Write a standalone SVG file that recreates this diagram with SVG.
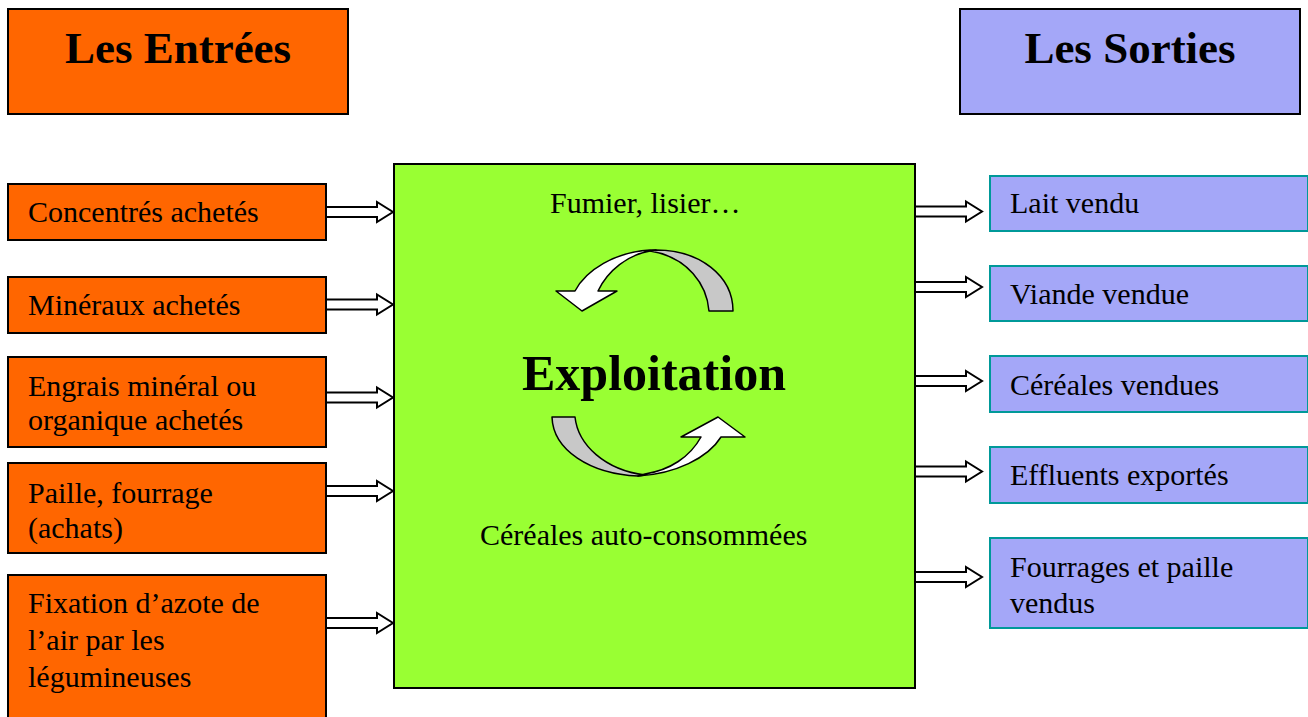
<svg xmlns="http://www.w3.org/2000/svg" xmlns:xlink="http://www.w3.org/1999/xlink" width="1308" height="717" viewBox="0 0 1308 717">
<style>
  .in { fill: #FF6600; stroke: #000; stroke-width: 2; }
  .out { fill: #A4A7F8; stroke: #009999; stroke-width: 2; }
  .outTitle { fill: #A4A7F8; stroke: #000; stroke-width: 2; }
  .main { fill: #99FF33; stroke: #000; stroke-width: 2; }
  .t { font-family: "Liberation Serif", "Times New Roman", serif; font-size: 30px; fill: #000; }
  .title { font-family: "Liberation Serif", "Times New Roman", serif; font-size: 45px; font-weight: bold; fill: #000; text-anchor: middle; }
  .big { font-family: "Liberation Serif", "Times New Roman", serif; font-size: 50px; font-weight: bold; fill: #000; text-anchor: middle; }
  .arr { fill: #fff; stroke: #000; stroke-width: 2; stroke-linejoin: miter; }
  .cw { fill: #fff; stroke: #000; stroke-width: 1.5; stroke-linejoin: round; }
  .cg { fill: #C8C8C8; stroke: #000; stroke-width: 1.5; stroke-linejoin: round; }
</style>
<defs>
  <path id="blk" d="M0,-5 L51,-5 L51,-10 L67,0 L51,10 L51,5 L0,5 Z"/>
</defs>
<rect width="1308" height="717" fill="#fff"/>

<g id="entrees-title">
  <rect class="in" x="8" y="9" width="340" height="105"/>
  <text class="title" x="178" y="63">Les Entrées</text>
</g>
<g id="sorties-title">
  <rect class="outTitle" x="960" y="9" width="340" height="105"/>
  <text class="title" x="1130" y="63">Les Sorties</text>
</g>

<g id="exploitation">
  <rect class="main" x="394" y="164" width="521" height="524"/>
  <text class="t" x="550" y="213">Fumier, lisier…</text>
  <text class="big" x="654" y="390">Exploitation</text>
  <text class="t" x="480" y="545">Céréales auto-consommées</text>
  <g id="cycle-top">
    <path class="cg" d="M650,251 C688,257 707,285 709,311 L733,311 C733,276 700,250 656,250 Z"/>
    <path class="cw" d="M656,250 L650,250 C615,252 586,270 575,291 L556,291 L582,311 L617,291 L598,291 C608,270 628,255 650,251 Z"/>
  </g>
  <g id="cycle-bottom">
    <path class="cg" d="M552,417 L575,417 C578,445 605,470 645,475 L638,476 C590,474 553,450 552,417 Z"/>
    <path class="cw" d="M638,476 C675,474 708,458 721,437 L745,437 L718,417 L681,437 L701,437 C690,457 670,470 645,474 Z"/>
  </g>
</g>

<g id="in1"><rect class="in" x="8" y="184" width="318" height="56"/><text class="t" x="28" y="222">Concentrés achetés</text></g>
<g id="in2"><rect class="in" x="8" y="277" width="318" height="56"/><text class="t" x="28" y="315">Minéraux achetés</text></g>
<g id="in3"><rect class="in" x="8" y="357" width="318" height="90"/><text class="t" x="28" y="396">Engrais minéral ou</text><text class="t" x="28" y="430">organique achetés</text></g>
<g id="in4"><rect class="in" x="8" y="463" width="318" height="90"/><text class="t" x="28" y="503">Paille, fourrage</text><text class="t" x="28" y="538">(achats)</text></g>
<g id="in5"><rect class="in" x="8" y="575" width="318" height="150"/><text class="t" x="28" y="613">Fixation d’azote de</text><text class="t" x="28" y="650">l’air par les</text><text class="t" x="28" y="687">légumineuses</text></g>

<g id="out1"><rect class="out" x="990" y="176" width="318" height="55"/><text class="t" x="1010" y="213">Lait vendu</text></g>
<g id="out2"><rect class="out" x="990" y="266" width="318" height="55"/><text class="t" x="1010" y="304">Viande vendue</text></g>
<g id="out3"><rect class="out" x="990" y="356" width="318" height="56"/><text class="t" x="1010" y="395">Céréales vendues</text></g>
<g id="out4"><rect class="out" x="990" y="447" width="318" height="56"/><text class="t" x="1010" y="485">Effluents exportés</text></g>
<g id="out5"><rect class="out" x="990" y="538" width="318" height="90"/><text class="t" x="1010" y="577">Fourrages et paille</text><text class="t" x="1010" y="613">vendus</text></g>

<g id="connectors">
  <use xlink:href="#blk" class="arr" transform="translate(326,212)"/>
  <use xlink:href="#blk" class="arr" transform="translate(326,304.5)"/>
  <use xlink:href="#blk" class="arr" transform="translate(326,397.5)"/>
  <use xlink:href="#blk" class="arr" transform="translate(326,491)"/>
  <use xlink:href="#blk" class="arr" transform="translate(326,623)"/>
  <use xlink:href="#blk" class="arr" transform="translate(915,211.5)"/>
  <use xlink:href="#blk" class="arr" transform="translate(915,287)"/>
  <use xlink:href="#blk" class="arr" transform="translate(915,381)"/>
  <use xlink:href="#blk" class="arr" transform="translate(915,471.5)"/>
  <use xlink:href="#blk" class="arr" transform="translate(915,577)"/>
</g>
</svg>
